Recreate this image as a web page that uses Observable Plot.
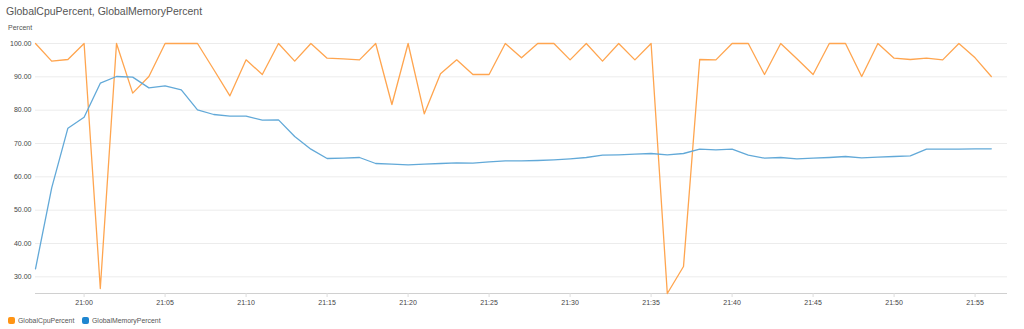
<!DOCTYPE html>
<html>
<head>
<meta charset="utf-8">
<script src="https://cdn.jsdelivr.net/npm/d3@7"></script>
<script src="https://cdn.jsdelivr.net/npm/@observablehq/plot@0.6"></script>
<style>
  html, body { margin: 0; padding: 0; background: #fff; }
  #wrap { position: relative; width: 1024px; height: 329px; font-family: "Liberation Sans", Arial, sans-serif; overflow: hidden; }
  #head { position: relative; height: 36px; }
  #title { position: absolute; left: 6px; top: 4px; font-size: 10.5px; line-height: 15px; color: #555; }
  #ylabel { position: absolute; left: 8px; top: 24px; font-size: 7px; line-height: 8px; color: #555; }
  #chart { height: 276px; }
  #chart svg { display: block; }
  #legend { position: relative; height: 17px; font-size: 6.9px; color: #555; }
  .item { position: absolute; top: 5px; display: flex; align-items: center; }
  .sw { width: 7px; height: 7px; border-radius: 2px; margin-right: 3px; }
</style>
</head>
<body>
<div id="wrap">
  <div id="head">
    <div id="title">GlobalCpuPercent, GlobalMemoryPercent</div>
    <div id="ylabel">Percent</div>
  </div>
  <div id="chart"></div>
  <div id="legend"></div>
</div>
<script>
// Series names and colours
const seriesNames = ["GlobalCpuPercent", "GlobalMemoryPercent"];
const lineColors = ["#ffa54f", "#62a9d8"];
const swatchColors = ["#ff9414", "#1f86d0"];

// Time axis: one sample per minute, 20:57 .. 21:56
const startTime = new Date(Date.UTC(2024, 0, 1, 20, 57));
const endTime = new Date(Date.UTC(2024, 0, 1, 21, 57));

// GlobalCpuPercent (per minute from 20:57)
const cpuValues = [
  100, 94.7, 95.2, 100, 26.5, 100, 85.1, 90.1, 100, 100,
  100, 92.2, 84.3, 95.1, 90.7, 100, 94.7, 100, 95.6, 95.4,
  95.1, 100, 81.7, 100, 78.9, 90.9, 95.1, 90.7, 90.7, 100,
  95.7, 100, 100, 95.1, 100, 94.7, 100, 95.1, 100, 25.0,
  33.1, 95.2, 95.1, 100, 100, 90.7, 100, 95.4, 90.7, 100,
  100, 90.1, 100, 95.6, 95.2, 95.6, 95.1, 100, 95.7, 90.1
];

// GlobalMemoryPercent (per minute from 20:57)
const memValues = [
  32.4, 56.7, 74.6, 77.9, 88.1, 90.1, 89.9, 86.7, 87.3, 86.1,
  80.1, 78.7, 78.2, 78.2, 77.0, 77.1, 72.1, 68.3, 65.5, 65.6,
  65.8, 64.0, 63.8, 63.6, 63.8, 64.0, 64.2, 64.1, 64.5, 64.8,
  64.8, 64.9, 65.1, 65.4, 65.8, 66.5, 66.6, 66.8, 67.0, 66.6,
  67.0, 68.3, 68.1, 68.3, 66.5, 65.6, 65.8, 65.4, 65.6, 65.8,
  66.1, 65.7, 65.9, 66.1, 66.3, 68.3, 68.3, 68.3, 68.4, 68.4
];

// Tick labels
const yTicks = [30, 40, 50, 60, 70, 80, 90, 100];
const xTickLabels = ["21:00","21:05","21:10","21:15","21:20","21:25","21:30","21:35","21:40","21:45","21:50","21:55"];

const times = d3.utcMinute.range(startTime, endTime);
const xTicks = xTickLabels.map(s => {
  const [h, m] = s.split(":").map(Number);
  return new Date(Date.UTC(2024, 0, 1, h, m));
});

const rows = [];
times.forEach((t, i) => {
  rows.push({time: t, value: cpuValues[i], series: seriesNames[0]});
});
times.forEach((t, i) => {
  rows.push({time: t, value: memValues[i], series: seriesNames[1]});
});

const chart = Plot.plot({
  width: 1024,
  height: 276,
  marginTop: 7,
  marginBottom: 19,
  marginLeft: 35,
  marginRight: 17,
  style: {fontFamily: "'Liberation Sans', Arial, sans-serif", fontSize: "7px", color: "#444", background: "#fff"},
  x: {type: "utc", domain: [startTime, endTime], label: null},
  y: {domain: [25, 100], label: null},
  color: {domain: seriesNames, range: lineColors},
  marks: [
    Plot.gridY(yTicks, {stroke: "#ececec", strokeOpacity: 1}),
    Plot.ruleY([25], {stroke: "#d0d0d0", strokeWidth: 1}),
    Plot.axisY(yTicks, {tickSize: 0, tickPadding: 4, tickFormat: d3.format(".2f"), label: null, fill: "#444"}),
    Plot.axisX(xTicks, {tickSize: 4, tickPadding: 3, tickFormat: d3.utcFormat("%H:%M"), label: null, stroke: "#ddd", fill: "#444"}),
    Plot.lineY(rows, {x: "time", y: "value", stroke: "series", strokeWidth: 1.3})
  ]
});
document.getElementById("chart").appendChild(chart);

// Legend
const legend = document.getElementById("legend");
const legendX = [8, 82];
seriesNames.forEach((name, i) => {
  const item = document.createElement("div");
  item.className = "item";
  item.style.left = legendX[i] + "px";
  const sw = document.createElement("div");
  sw.className = "sw";
  sw.style.background = swatchColors[i];
  const label = document.createElement("span");
  label.textContent = name;
  item.appendChild(sw);
  item.appendChild(label);
  legend.appendChild(item);
});
</script>
</body>
</html>
